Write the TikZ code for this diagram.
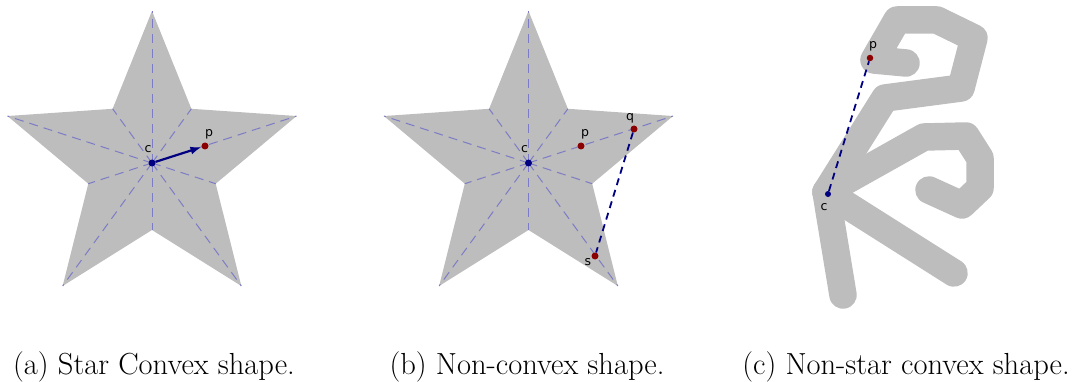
\documentclass[tikz,border=0pt]{standalone}
\usepackage{fontspec}
\usepackage{tikz}
\usetikzlibrary{calc,positioning,arrows.meta}
\newfontfamily\labelfont{DejaVu Sans}
\definecolor{shapegray}{HTML}{BDBDBD}
\definecolor{spokeblue}{HTML}{7C7CC6}
\definecolor{ptblue}{HTML}{000080}
\definecolor{ptred}{HTML}{8B0000}

\begin{document}
\begin{tikzpicture}[x=1pt, y=1pt,
    spoke/.style={spokeblue, line width=1pt, dash pattern=on 9pt off 6pt},
    dot/.style={circle, inner sep=0pt, minimum size=7pt},
    cdot/.style={dot, fill=ptblue},
    pdot/.style={dot, fill=ptred},
    lbl/.style={inner sep=0pt, font=\labelfont\fontsize{12.5}{12.5}\selectfont},
    link/.style={ptblue, line width=1.8pt, dash pattern=on 7pt off 5pt},
    blob/.style={shapegray, line width=27.5pt, line cap=round, line join=round},
    caption/.style={anchor=base, inner sep=0pt, font=\fontsize{30.5}{36}\selectfont}]
  \useasboundingbox (0,0) rectangle (1080,381);

  % (a) star convex
  \coordinate (c1) at (152,218);
  \foreach \i in {0,...,9} {
    \pgfmathsetmacro\r{mod(\i,2)==0 ? 152 : 67}
    \coordinate (v1-\i) at ($(c1)+(90+36*\i:\r)$);
  }
  \fill[shapegray] (v1-0) \foreach \i in {1,...,9} {-- (v1-\i)} -- cycle;
  \foreach \i in {0,...,9} \draw[spoke] (c1) -- (v1-\i);
  \node[cdot] (cd1) at (c1) {};
  \node[pdot] (pd1) at (205,235) {};
  \draw[ptblue, line width=2.2pt, -{Latex[length=11pt,width=8pt]}] (cd1) -- (pd1);
  \node[lbl, above=6pt of cd1, xshift=-4pt] (cl1) {c};
  \node[lbl, above=3pt of pd1, xshift=4pt] (pl1) {p};

  % (b) non-convex
  \coordinate (c2) at (528.5,218);
  \foreach \i in {0,...,9} {
    \pgfmathsetmacro\r{mod(\i,2)==0 ? 152 : 67}
    \coordinate (v2-\i) at ($(c2)+(90+36*\i:\r)$);
  }
  \fill[shapegray] (v2-0) \foreach \i in {1,...,9} {-- (v2-\i)} -- cycle;
  \foreach \i in {0,...,9} \draw[spoke] (c2) -- (v2-\i);
  \node[cdot] (cd2) at (c2) {};
  \node[pdot] (pd2) at (581,235) {};
  \node[pdot] (qd2) at (634,252) {};
  \node[pdot] (sd2) at (595,125) {};
  \draw[link] (qd2) -- (sd2);
  \node[lbl, above=6pt of cd2, xshift=-4pt] (cl2) {c};
  \node[lbl, above=3pt of pd2, xshift=4pt] (pl2) {p};
  \node[lbl, above=2pt of qd2, xshift=-4pt] (ql2) {q};
  \node[lbl, below left=0pt and 1pt of sd2] (sl2) {s};

  % (c) non-star convex
  \coordinate (k) at (826,189);
  \draw[blob] (843,86) -- (k) -- (885,283) -- (961,293) -- (974,343)
    -- (937,361) -- (897,361) -- (874,321) -- (906,318);
  \draw[blob] (k) -- (924,244) -- (966,245) -- (980,223) -- (980,193)
    -- (962,176) -- (929,191);
  \draw[blob] (k) -- (954,108);
  \node[cdot, minimum size=6pt] (cd3) at (828,187) {};
  \node[pdot, minimum size=6.5pt] (pd3) at (870,323) {};
  \draw[link] (cd3) -- (pd3);
  \node[lbl, below=6pt of cd3, xshift=-4pt] (cl3) {c};
  \node[lbl, above=3pt of pd3, xshift=3pt] (pl3) {p};

  % captions
  \node[caption] (capa) at (154,7) {(a) Star Convex shape.};
  \node[caption] (capb) at (527,7) {(b) Non-convex shape.};
  \node[caption] (capc) at (906,7) {(c) Non-star convex shape.};
\end{tikzpicture}
\end{document}
